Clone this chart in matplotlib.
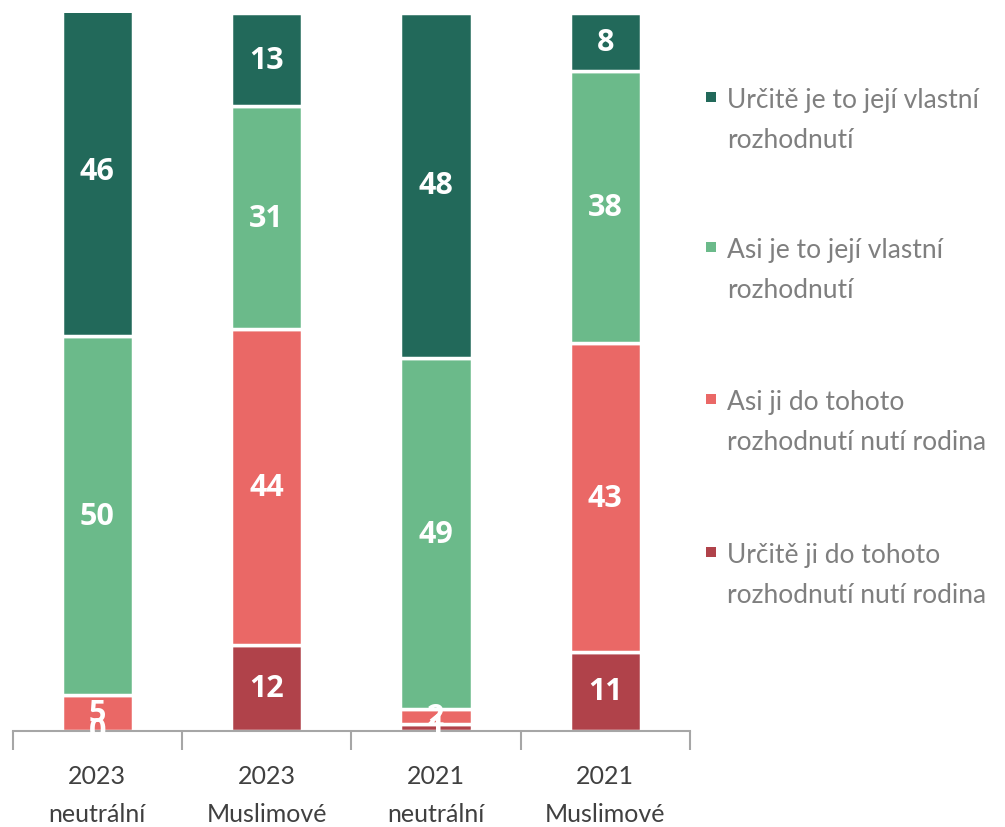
import numpy as np
import matplotlib.pyplot as plt
from matplotlib.patches import Rectangle

categories = ['2023\nneutrální', '2023\nMuslimové', '2021\nneutrální', '2021\nMuslimové']
series = ['Určitě ji do tohoto\nrozhodnutí nutí rodina',
          'Asi ji do tohoto\nrozhodnutí nutí rodina',
          'Asi je to její vlastní\nrozhodnutí',
          'Určitě je to její vlastní\nrozhodnutí']
# bottom -> top
urcite_rodina = [0, 12, 1, 11]
asi_rodina = [5, 44, 2, 43]
asi_vlastni = [50, 31, 49, 38]
urcite_vlastni = [46, 13, 48, 8]
values = [urcite_rodina, asi_rodina, asi_vlastni, urcite_vlastni]
colors = ['#B0424A', '#EA6866', '#6BBA8A', '#22695A']

plt.rcParams['font.family'] = ['Lato', 'DejaVu Sans']

fig = plt.figure(figsize=(10.05, 8.28), dpi=100)
ax = fig.add_axes([0.0126, 0.116, 0.674, 0.867])

x = np.arange(len(categories))
bottom = np.zeros(len(categories))
for vals, col in zip(values, colors):
    vals = np.array(vals, dtype=float)
    ax.bar(x, vals, 0.42, bottom=bottom, color=col, edgecolor='white', linewidth=2.5)
    for xi, b, v in zip(x, bottom, vals):
        ax.text(xi, b + v / 2, '%d' % v, ha='center', va='center', color='white',
                fontsize=22, fontweight='bold', family=['Open Sans', 'DejaVu Sans'])
    bottom += vals

ax.set_xlim(-0.5, 3.5)
ax.set_ylim(0, 100)
ax.set_yticks([])
for s in ['top', 'right', 'left']:
    ax.spines[s].set_visible(False)
ax.spines['bottom'].set_color('#A6A6A6')
ax.spines['bottom'].set_linewidth(1.5)
ax.set_xticks(x)
ax.set_xticklabels(categories, fontsize=18, color='#404040', linespacing=1.75)
ax.tick_params(axis='x', which='major', length=0, pad=24)
ax.set_xticks(np.arange(-0.5, 4, 1), minor=True)
ax.tick_params(axis='x', which='minor', length=14, width=1.5, color='#A6A6A6')

# legend drawn by hand, top to bottom
leg_top = [0.8935, 0.7124, 0.5288, 0.344]
for lab, col, yt in zip(series[::-1], colors[::-1], leg_top):
    fig.patches.append(Rectangle((0.7025, yt - 0.0119 - 0.006), 0.01, 0.0121,
                                 transform=fig.transFigure, facecolor=col, edgecolor='none'))
    fig.text(0.7234, yt, lab, ha='left', va='top', fontsize=19, color='#7F7F7F',
             linespacing=1.72)

fig.savefig('out.png', dpi=100)
